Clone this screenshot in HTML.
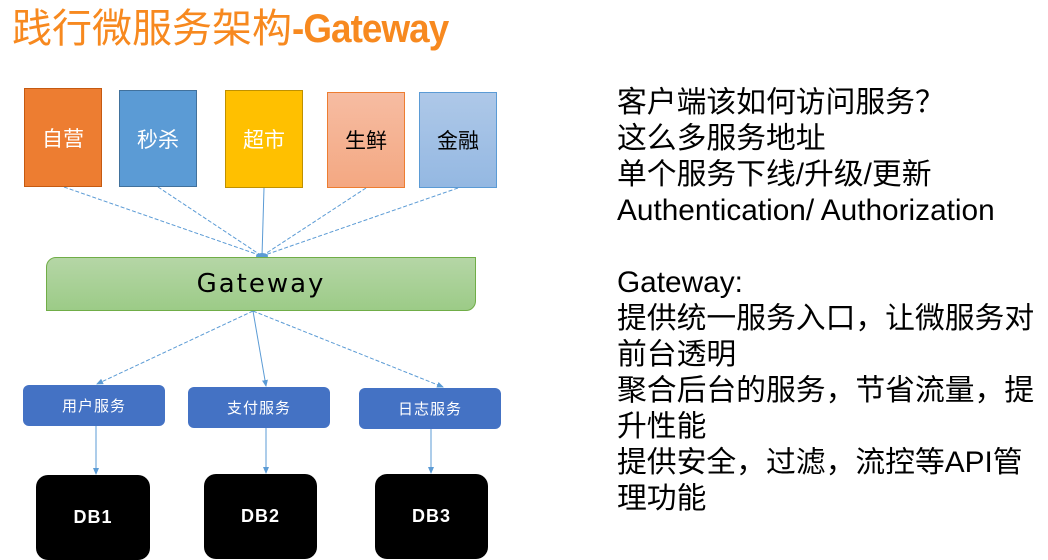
<!DOCTYPE html>
<html><head><meta charset="utf-8"><style>
body{margin:0;width:1048px;height:551px;background:#fff;position:relative;overflow:hidden;font-family:"Liberation Sans","Noto Sans CJK SC",sans-serif}
.a{position:absolute}
.box{position:absolute;display:flex;align-items:center;justify-content:center;font-size:21px;box-sizing:border-box}
.svc{position:absolute;background:#4472c4;color:#fff;border-radius:6px;display:flex;align-items:center;justify-content:center;font-size:15px;letter-spacing:1px}
.db{position:absolute;background:#000;color:#fff;border-radius:12px;display:flex;align-items:center;justify-content:center;font-size:18px;font-weight:bold;letter-spacing:1px}
.r{position:absolute;left:617px;font-size:29.8px;line-height:36px;color:#000;white-space:nowrap}
</style></head><body>
<div class="a" style="left:12px;top:4px;font-size:40px;color:#f7891f;white-space:nowrap;line-height:50px">践行微服务架构<span style="font-weight:bold;letter-spacing:-1px;display:inline-block;transform:scaleX(0.92);transform-origin:left">-Gateway</span></div>

<svg class="a" style="left:0;top:0" width="600" height="551">
<defs><marker id="ar" markerWidth="8" markerHeight="8" refX="6" refY="4" orient="auto"><path d="M0,1 L7,4 L0,7z" fill="#5b9bd5"/></marker></defs>
<g stroke="#5b9bd5" stroke-width="1" fill="none">
<line x1="64" y1="187" x2="262" y2="256" stroke-dasharray="4,2"/>
<line x1="158" y1="187" x2="262" y2="256" stroke-dasharray="4,2"/>
<line x1="264" y1="188" x2="262" y2="256"/>
<line x1="366" y1="188" x2="262" y2="256" stroke-dasharray="4,2"/>
<line x1="458" y1="188" x2="262" y2="256" stroke-dasharray="4,2"/>
<line x1="253" y1="311" x2="97" y2="384" stroke-dasharray="4,2" marker-end="url(#ar)"/>
<line x1="253" y1="311" x2="266" y2="386" marker-end="url(#ar)"/>
<line x1="253" y1="311" x2="443" y2="387" stroke-dasharray="4,2" marker-end="url(#ar)"/>
<line x1="96" y1="426" x2="96" y2="474" marker-end="url(#ar)"/>
<line x1="266" y1="428" x2="266" y2="473" marker-end="url(#ar)"/>
<line x1="431" y1="429" x2="431" y2="473" marker-end="url(#ar)"/>
</g>
<ellipse cx="262" cy="256" rx="6" ry="3" fill="#5b9bd5"/>
</svg>

<div class="box" style="left:24px;top:88px;width:78px;height:99px;background:#ed7d31;border:1px solid #c55a11;color:#fff">自营</div>
<div class="box" style="left:119px;top:90px;width:78px;height:97px;background:#5b9bd5;border:1px solid #41719c;color:#fff">秒杀</div>
<div class="box" style="left:225px;top:90px;width:78px;height:98px;background:#ffc000;border:1px solid #bf9000;color:#fff">超市</div>
<div class="box" style="left:327px;top:92px;width:78px;height:96px;background:linear-gradient(#f6bca2,#f4a882);border:1px solid #ed7d31;color:#000">生鲜</div>
<div class="box" style="left:419px;top:92px;width:78px;height:96px;background:linear-gradient(#aec8e8,#94b8e2);border:1px solid #5b9bd5;color:#000">金融</div>

<div class="a" style="left:46px;top:257px;width:430px;height:54px;box-sizing:border-box;background:linear-gradient(#b5d6a6,#9ccb87);border:1px solid #70ad47;border-radius:10px 0 10px 0;display:flex;align-items:center;justify-content:center;font-size:26px;letter-spacing:2px;font-family:'DejaVu Sans',sans-serif">Gateway</div>

<div class="svc" style="left:23px;top:385px;width:142px;height:41px">用户服务</div>
<div class="svc" style="left:188px;top:387px;width:142px;height:41px">支付服务</div>
<div class="svc" style="left:359px;top:388px;width:142px;height:41px">日志服务</div>

<div class="db" style="left:36px;top:475px;width:114px;height:85px">DB1</div>
<div class="db" style="left:204px;top:474px;width:113px;height:85px">DB2</div>
<div class="db" style="left:375px;top:474px;width:113px;height:85px">DB3</div>

<div class="r" style="top:85px">客户端该如何访问服务？<br>这么多服务地址<br>单个服务下线/升级/更新<br>Authentication/ Authorization<br><br>Gateway:<br>提供统一服务入口，让微服务对<br>前台透明<br>聚合后台的服务，节省流量，提<br>升性能<br>提供安全，过滤，流控等API管<br>理功能</div>
</body></html>
